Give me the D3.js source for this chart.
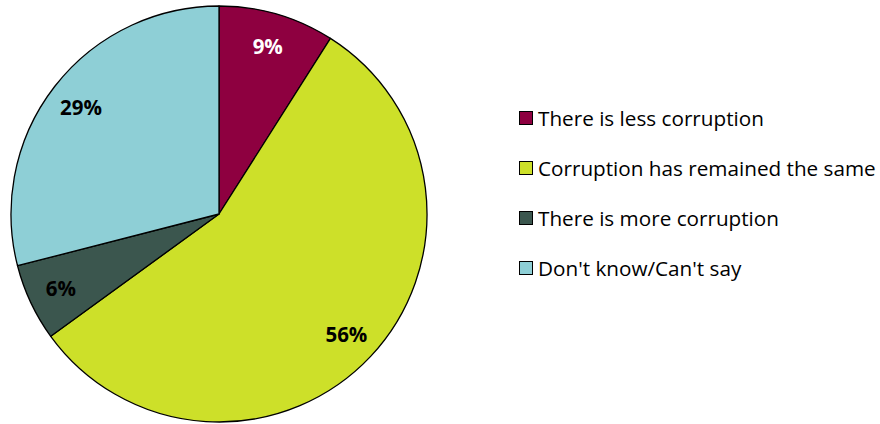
<!DOCTYPE html>
<html>
<head>
<meta charset="utf-8">
<script src="https://cdn.jsdelivr.net/npm/d3@7"></script>
<style>
  html, body { margin: 0; padding: 0; background: #fff; }
  svg { display: block; font-family: "Open Sans", "Lato", sans-serif; }
</style>
</head>
<body>
<svg id="chart" width="880" height="424"></svg>
<script>
// Survey answers, clockwise from 12 o'clock
const categories = ["There is less corruption", "Corruption has remained the same", "There is more corruption", "Don't know/Can't say"];
const shares = [9, 56, 6, 29];
const sliceColors = ["#8E0040", "#CDE029", "#3B564E", "#8ECFD6"];
const labelColors = ["#ffffff", "#000000", "#000000", "#000000"];

const data = categories.map((c, i) => ({ name: c, value: shares[i], color: sliceColors[i], text: labelColors[i] }));

const svg = d3.select("#chart");
const cx = 219, cy = 214, R = 208;

const pie = d3.pie().value(d => d.value).sort(null);
const arc = d3.arc().innerRadius(0).outerRadius(R);
const labelArc = d3.arc().innerRadius(R * 0.84).outerRadius(R * 0.84);

const g = svg.append("g").attr("transform", `translate(${cx},${cy})`);
const arcs = pie(data);

g.selectAll("path.slice").data(arcs).join("path")
  .attr("class", "slice")
  .attr("d", arc)
  .attr("fill", d => d.data.color)
  .attr("stroke", "#000")
  .attr("stroke-width", 1.3)
  .attr("stroke-linejoin", "round");

g.selectAll("text.pct").data(arcs).join("text")
  .attr("class", "pct")
  .attr("transform", d => `translate(${labelArc.centroid(d)})`)
  .attr("text-anchor", "middle")
  .attr("dominant-baseline", "central")
  .attr("font-size", 20.5)
  .attr("font-weight", "bold")
  .attr("fill", d => d.data.text)
  .text(d => d.data.value + "%");

// Legend
const legendY = d3.scalePoint().domain(categories).range([118, 268]);
const lg = svg.append("g");
const rows = lg.selectAll("g.row").data(data).join("g")
  .attr("class", "row")
  .attr("transform", d => `translate(519,${legendY(d.name)})`);
rows.append("rect")
  .attr("x", 0.5).attr("y", -6.5).attr("width", 13).attr("height", 13)
  .attr("fill", d => d.color).attr("stroke", "#000").attr("stroke-width", 1);
rows.append("text")
  .attr("x", 19).attr("y", 0)
  .attr("dominant-baseline", "central")
  .attr("font-size", 20.7)
  .attr("fill", "#000")
  .text(d => d.name);
</script>
</body>
</html>
